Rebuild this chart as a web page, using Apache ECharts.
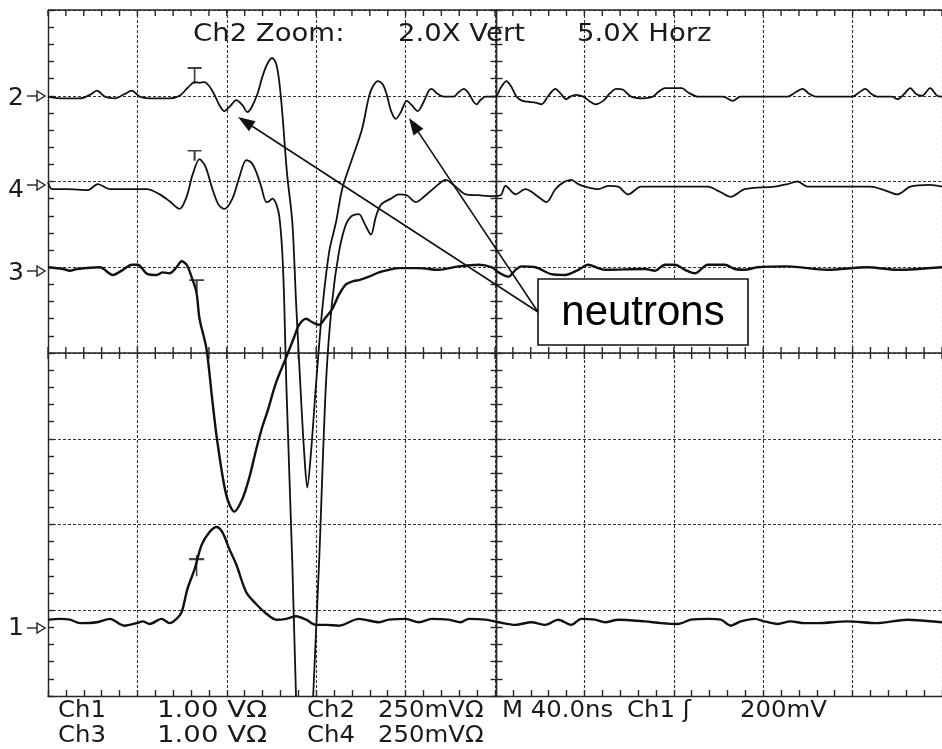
<!DOCTYPE html>
<html><head><meta charset="utf-8">
<script src="https://cdn.jsdelivr.net/npm/echarts/dist/echarts.min.js"></script>
<style>html,body{margin:0;padding:0;background:#fff}#c{width:942px;height:749px}</style>
</head><body><div id="c"></div>
<script>
// Time in ns (40 ns/div, 10 div), value in screen divisions from centre (-4..4)
const ch2 = [[0,2.99],[5.4,2.97],[14.3,2.97],[18.7,3.01],[21.9,3.06],[25.4,2.99],[29.9,2.97],[34.3,3.02],[37.5,3.06],[41.0,2.99],[45.5,2.97],[54.4,2.97],[58.9,3.00],[62.4,3.09],[65.6,3.16],[67.8,3.15],[70.0,3.16],[72.2,3.11],[74.5,3.01],[76.7,2.89],[78.9,2.82],[81.2,2.87],[84.3,2.95],[87.0,2.89],[89.2,2.81],[91.0,2.86],[93.7,3.02],[95.9,3.22],[98.1,3.37],[100.3,3.44],[102.1,3.37],[103.5,3.16],[104.8,2.81],[107.0,2.08],[109.3,1.53],[111.0,0.59],[113.3,-0.57],[114.6,-1.15],[116.0,-1.57],[117.7,-1.15],[120.0,-0.34],[122.6,0.48],[125.8,1.18],[128.9,1.53],[131.6,1.91],[136.0,2.26],[140.5,2.61],[143.6,2.99],[145.4,3.11],[147.6,3.17],[149.8,3.13],[151.6,3.01],[153.4,2.83],[155.6,2.73],[157.9,2.81],[160.5,2.94],[162.8,2.89],[165.4,2.82],[168.1,2.93],[170.4,3.06],[171.7,3.08],[173.9,3.03],[177.0,2.99],[181.5,2.99],[183.7,3.04],[186.0,3.08],[188.2,3.03],[190.4,2.93],[191.8,2.90],[193.5,2.95],[195.8,2.99],[200.2,2.99],[202.5,3.09],[205.1,3.17],[207.4,3.10],[209.6,2.99],[212.3,2.94],[215.0,2.93],[218.1,2.92],[220.8,2.90],[223.9,3.00],[227.0,3.08],[229.2,3.03],[231.9,2.96],[233.7,2.99],[235.9,3.01],[239.5,2.99],[242.6,2.93],[244.8,2.90],[248.4,2.94],[251.5,3.03],[254.2,3.08],[257.3,3.07],[260.9,2.99],[266.2,2.97],[270.7,2.99],[272.9,3.04],[276.1,3.09],[283.6,3.09],[286.3,3.04],[290.8,2.99],[301.9,2.99],[306.4,2.94],[309.9,2.99],[330.9,2.99],[334.5,3.04],[337.6,3.08],[340.7,3.02],[343.4,2.99],[359.9,2.99],[363.0,3.04],[365.7,3.08],[368.4,3.02],[371.0,2.99],[377.7,2.99],[380.0,2.96],[383.1,3.02],[385.8,3.09],[388.4,3.02],[391.1,3.00],[394.7,3.09],[397.8,3.00],[400,2.99]];

const ch4 = [[0,1.99],[1.8,1.91],[8.5,1.91],[17.8,1.90],[22.3,1.97],[27.7,1.91],[41.0,1.91],[44.2,1.91],[50.0,1.85],[54.4,1.77],[58.9,1.68],[62.0,1.82],[64.7,2.08],[67.8,2.26],[70.5,2.17],[73.6,1.91],[76.3,1.73],[78.9,1.68],[82.5,1.80],[85.6,2.05],[88.7,2.25],[91.0,2.22],[93.2,2.11],[95.4,1.94],[97.7,1.76],[99.0,1.77],[100.3,1.80],[102.1,1.74],[103.5,1.59],[104.8,1.18],[105.7,0.59],[106.6,-0.34],[109.3,-2.44],[111.0,-4.03],[114.6,-6.75],[118.6,-4.03],[121.3,-2.44],[124.4,-0.34],[127.1,0.59],[130.2,1.18],[133.3,1.50],[136.0,1.60],[139.1,1.62],[141.8,1.50],[144.5,1.38],[146.7,1.59],[149.0,1.73],[153.4,1.80],[157.0,1.85],[160.5,1.84],[164.6,1.76],[169.0,1.84],[173.5,1.94],[177.9,2.02],[182.4,1.94],[186.9,1.85],[192.7,1.84],[198.5,1.83],[202.5,1.84],[204.7,1.95],[209.2,1.85],[213.6,1.91],[216.3,1.88],[219.9,1.81],[223.0,1.76],[227.0,1.91],[230.6,1.99],[234.1,2.02],[237.3,1.97],[240.4,1.94],[246.2,1.91],[250.6,1.95],[255.1,1.94],[259.6,1.85],[265.3,1.94],[286.3,1.94],[295.2,1.94],[300.6,1.88],[305.5,1.82],[311.7,1.91],[325.1,1.94],[330.9,1.97],[335.4,2.00],[339.8,1.94],[367.9,1.94],[374.2,1.90],[380.0,1.85],[385.8,1.94],[394.7,1.96],[400,1.94]];

const ch3 = [[0,1.00],[6.7,0.98],[9.8,0.96],[12.9,0.98],[23.2,1.00],[29.0,0.91],[33.5,0.97],[37.5,1.03],[40.1,1.03],[44.6,0.92],[48.6,0.91],[51.3,0.94],[54.4,0.93],[57.5,1.00],[59.8,1.07],[62.0,1.03],[64.2,0.89],[66.4,0.71],[67.8,0.40],[70.9,0.05],[73.6,-0.57],[75.8,-1.04],[79.8,-1.66],[83.4,-1.85],[87.0,-1.70],[90.1,-1.45],[93.2,-1.12],[95.9,-0.86],[98.1,-0.69],[102.1,-0.34],[106.6,-0.05],[110.2,0.19],[112.4,0.33],[115.5,0.40],[118.2,0.36],[121.3,0.33],[124.4,0.42],[127.1,0.51],[130.2,0.68],[133.3,0.80],[136.9,0.84],[139.1,0.85],[143.6,0.89],[148.1,0.94],[152.5,0.97],[157.0,0.99],[165.9,0.99],[174.8,0.97],[183.7,1.01],[192.7,1.03],[198.5,1.00],[201.6,0.94],[206.0,0.89],[209.2,0.97],[211.8,1.01],[218.1,1.00],[225.2,0.92],[231.4,0.91],[237.3,0.97],[241.7,1.03],[246.2,0.99],[249.3,0.97],[267.1,0.98],[271.6,0.96],[276.1,1.03],[280.5,1.03],[285.0,0.97],[289.4,0.93],[295.2,1.03],[302.8,1.03],[307.3,0.98],[311.7,0.97],[317.5,1.00],[330.9,1.01],[348.7,0.97],[366.6,1.00],[380.0,0.97],[400,1.00]];

const ch1 = [[0,-3.11],[5.4,-3.10],[9.8,-3.11],[14.3,-3.15],[21.9,-3.14],[27.7,-3.10],[32.1,-3.16],[34.3,-3.18],[39.7,-3.15],[42.4,-3.13],[45.5,-3.16],[50.8,-3.10],[54.4,-3.15],[57.5,-3.10],[59.8,-3.02],[62.4,-2.75],[65.6,-2.52],[68.7,-2.24],[72.2,-2.09],[75.4,-2.03],[78.0,-2.09],[81.2,-2.29],[84.3,-2.47],[88.7,-2.79],[93.2,-2.93],[97.7,-3.04],[102.1,-3.11],[106.6,-3.10],[111.0,-3.07],[115.5,-3.11],[120.0,-3.17],[124.4,-3.17],[130.2,-3.18],[139.1,-3.10],[148.1,-3.14],[152.5,-3.11],[160.1,-3.10],[165.9,-3.14],[171.7,-3.10],[179.3,-3.11],[184.6,-3.14],[188.2,-3.10],[195.8,-3.11],[201.6,-3.14],[209.2,-3.17],[216.3,-3.14],[222.5,-3.17],[228.3,-3.11],[234.1,-3.17],[238.6,-3.10],[244.8,-3.11],[249.3,-3.14],[255.1,-3.11],[267.1,-3.13],[274.3,-3.15],[281.8,-3.16],[287.6,-3.11],[295.2,-3.10],[301.0,-3.11],[305.5,-3.18],[309.9,-3.13],[316.2,-3.10],[320.6,-3.13],[326.4,-3.16],[332.2,-3.13],[338.5,-3.15],[344.3,-3.15],[357.7,-3.13],[371.0,-3.15],[384.4,-3.11],[400,-3.14]];

// trigger/position markers (ch2, ch4, ch3, ch1)
const markers = [[65.6,3.23],[65.6,2.30],[66.5,0.78],[66.5,-2.48]];

const topTexts = ['Ch2 Zoom:', '2.0X Vert', '5.0X Horz'];
const bottomRow1 = ['Ch1', '1.00 V\u03A9', 'Ch2', '250mV\u03A9', 'M 40.0ns', 'Ch1 \u0283', '200mV'];
const bottomRow2 = ['Ch3', '1.00 V\u03A9', 'Ch4', '250mV\u03A9'];
const chanLabels = ['2', '4', '3', '1'];
const annotation = 'neutrons';

// horizontal graticule ticks: 5 per 40 ns division
const tickStep = 8, tMax = 400;
const hTicks = [];
for (let t = 0; t <= tMax; t += tickStep) { hTicks.push([t, 0]); hTicks.push([t, 4]); }

const L0 = 48, T0 = 10, W0 = 897, H0 = 686;
const grids = [
  {left:L0, top:T0, width:W0, height:H0},
  {left:L0, top:T0, width:W0/2, height:H0},
  {left:L0+W0/2, top:T0, width:W0/2, height:H0}
];
const AXC = '#262626';
const axLine = {color:AXC, width:1.4};
const splitStyle = {color:'#333', width:1.1, type:[3,2]};

function xAx(gi, pos, split){
  return {type:'value', gridIndex:gi, min:0, max:400, interval:40, position:pos,
    axisLine:{show:true, onZero:false, lineStyle:axLine},
    axisTick:{show:true, inside:true, length:6, lineStyle:axLine},
    minorTick:{show:true, splitNumber:5, length:6, lineStyle:axLine},
    axisLabel:{show:false},
    splitLine:{show:split, lineStyle:splitStyle}};
}
function yAx(gi, pos, split){
  return {type:'value', gridIndex:gi, min:-4, max:4, interval:1, position:pos,
    axisLine:{show:true, onZero:false, lineStyle:axLine},
    axisTick:{show:true, inside:true, length:6, lineStyle:axLine},
    minorTick:{show:true, splitNumber:5, length:6, lineStyle:axLine},
    axisLabel:{show:false},
    splitLine:{show:split, lineStyle:splitStyle}};
}
function hidden(gi){ return {type:'value', gridIndex:gi, show:false, min:0, max:1}; }

function lineSeries(d, w){
  return {type:'line', xAxisIndex:0, yAxisIndex:0, data:d, showSymbol:false, smooth:0.3,
    lineStyle:{color:'#111', width:w}, z:5, silent:true, clip:true};
}

const markerShapes = [
  {symbol:'path://M0,0L14,0M7,0L7,16', size:[14,16]},
  {symbol:'path://M0,0L14,0M7,0L7,10', size:[14,10]},
  {symbol:'path://M0,0L15,0M7.5,0L7.5,12', size:[15,12]},
  {symbol:'path://M0,4L15,4M7.5,0L7.5,21', size:[15,21]}
];

const graphic = [];
function txt(x, y, s, size, sx, fam){
  graphic.push({type:'text', x:x, y:y, scaleX:sx||1, z:20,
    style:{text:s, fontFamily:fam||'DejaVu Sans', fontSize:size, fill:'#1a1a1a',
      textVerticalAlign:'middle', verticalAlign:'middle'}});
}
const topX = [193, 398, 577];
topTexts.forEach((s,i)=>txt(topX[i], 34, s, 25, 1.1));
const r1X = [58, 157, 307, 378, 502, 627, 740];
bottomRow1.forEach((s,i)=>txt(r1X[i], 711, s, 23, i===1?1.2:1.06));
bottomRow2.forEach((s,i)=>txt(r1X[i], 736, s, 23, i===1?1.2:1.06));

const chanY = [[98,96],[190,185],[273,271],[628,628]];
chanLabels.forEach((s,i)=>{
  const ty = chanY[i][0], ay = chanY[i][1];
  txt(8, ty, s, 25, 1);
  graphic.push({type:'polyline', z:20, shape:{points:[[27,ay],[37,ay]]}, style:{stroke:'#222', lineWidth:1.4, fill:null}});
  graphic.push({type:'polygon', z:20, shape:{points:[[37,ay-5],[45,ay],[37,ay+5]]}, style:{stroke:'#222', lineWidth:1.4, fill:'#fff'}});
});

// annotation box and arrows
const from = [538, 312];
[[238,117],[409,118]].forEach(tip=>{
  const dx = tip[0]-from[0], dy = tip[1]-from[1], L = Math.hypot(dx,dy);
  const ux = dx/L, uy = dy/L, hl = 17, hw = 6;
  const bx = tip[0]-ux*hl, by = tip[1]-uy*hl;
  graphic.push({type:'line', z:18, shape:{x1:from[0], y1:from[1], x2:bx, y2:by}, style:{stroke:'#111', lineWidth:1.6}});
  graphic.push({type:'polygon', z:18, shape:{points:[[tip[0],tip[1]],[bx-uy*hw,by+ux*hw],[bx+uy*hw,by-ux*hw]]}, style:{fill:'#111'}});
});
graphic.push({type:'rect', z:19, shape:{x:538, y:279, width:210, height:66}, style:{fill:'#fff', stroke:'#111', lineWidth:1.6}});
graphic.push({type:'text', z:21, x:643, y:313, style:{text:annotation, fontFamily:'Liberation Sans', fontSize:42, fill:'#000', textAlign:'center', align:'center', textVerticalAlign:'middle', verticalAlign:'middle'}});

const chart = echarts.init(document.getElementById('c'), null, {renderer:'canvas'});
chart.setOption({
  animation:false,
  backgroundColor:'#fff',
  grid:grids,
  xAxis:[
    xAx(0,'bottom',true),
    hidden(1),
    hidden(2)
  ],
  yAxis:[
    yAx(0,'left',true),
    yAx(1,'right',false),
    yAx(2,'left',false)
  ],
  series:[
    // centre horizontal line + centre/top graticule ticks through the data scales
    {type:'custom', xAxisIndex:0, yAxisIndex:0, silent:true, z:3, clip:false,
      data: hTicks,
      renderItem: function(params, api){
        const t = api.value(0), v = api.value(1);
        const p = api.coord([t, v]);
        const st = {stroke:AXC, lineWidth:1.4};
        const children = [];
        if (v === 0) {
          children.push({type:'line', shape:{x1:p[0], y1:p[1]-6, x2:p[0], y2:p[1]+6}, style:st});
          if (t === 0) {
            const q = api.coord([tMax, 0]);
            children.push({type:'line', shape:{x1:p[0], y1:p[1], x2:q[0], y2:q[1]}, style:st});
          }
        } else {
          children.push({type:'line', shape:{x1:p[0], y1:p[1], x2:p[0], y2:p[1]+6}, style:st});
          if (t === 0) {
            const q = api.coord([tMax, v]);
            children.push({type:'line', shape:{x1:p[0], y1:p[1], x2:q[0], y2:q[1]}, style:st});
          }
        }
        return {type:'group', children:children};
      }},
    lineSeries(ch2, 1.8),
    lineSeries(ch4, 1.8),
    lineSeries(ch3, 2.4),
    lineSeries(ch1, 2.4),
    {type:'scatter', xAxisIndex:0, yAxisIndex:0, silent:true, z:6,
      data: markers.map((m,i)=>({value:m, symbol:markerShapes[i].symbol, symbolSize:markerShapes[i].size})),
      itemStyle:{color:'rgba(0,0,0,0)', borderColor:'#111', borderWidth:1.8}}
  ],
  graphic: graphic
});
</script></body></html>
